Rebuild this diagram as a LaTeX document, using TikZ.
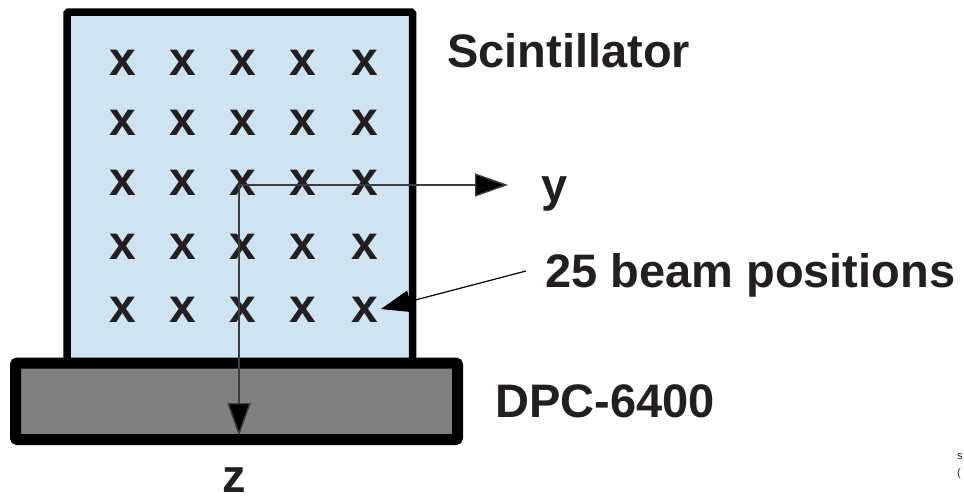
\documentclass[tikz,border=0pt]{standalone}
\usepackage{fontspec}
\setmainfont{Liberation Sans}
\usetikzlibrary{arrows.meta}
\definecolor{scinblue}{RGB}{207,228,243}
\definecolor{dpcgray}{RGB}{128,128,128}
\definecolor{ink}{RGB}{35,31,32}
\definecolor{axisline}{RGB}{60,60,60}
\tikzset{
  bigtext/.style={font=\fontsize{47}{50}\selectfont\bfseries, text=ink, inner sep=0pt},
  xmark/.style={font=\fontsize{48}{50}\selectfont\bfseries, text=ink, inner sep=0pt},
  axisarrow/.style={draw=axisline, line width=1.4pt, -{Triangle[length=33pt,width=23pt,fill=black]}},
  tinytext/.style={font=\fontsize{11}{12}\selectfont, text=ink, inner sep=0pt, anchor=base west}
}
\begin{document}
\begin{tikzpicture}[x=1pt,y=-1pt]
\useasboundingbox (0,0) rectangle (964,499);
\clip (0,0) rectangle (964,499);
% scintillator
\draw[fill=scinblue, line width=7.5pt, rounded corners=1.5pt] (67,12) rectangle (412.5,380);
\node[inner sep=0pt] (scin) at (240,190) {};
% DPC box
\draw[fill=dpcgray, line width=11pt, rounded corners=2pt] (15.5,363) rectangle (457.5,439.5);
\node[inner sep=0pt] (dpc) at (236,401) {};
% x marks
\foreach \r/\yy in {1/62.5,2/123,3/183,4/247,5/310}{
  \foreach \c/\xx in {1/122.5,2/182.5,3/242.5,4/303,5/364.5}{
    \node[xmark] (x\r\c) at (\xx,\yy) {x};
  }
}
% axes
\coordinate (o) at (239,185);
\coordinate (ytip) at (508,185);
\coordinate (ztip) at (239,436);
\draw[axisarrow] (o) -- (ytip);
\draw[axisarrow] (o) -- (ztip);
% labels
\node[bigtext, anchor=base west] (scilabel) at (447,67) {Scintillator};
\node[bigtext, anchor=base west] (ylabel) at (541,201) {y};
\node[bigtext, anchor=base west] (beamlabel) at (545,287) {25 beam positions};
\node[bigtext, anchor=base west] (dpclabel) at (495,417) {DPC-6400};
\node[bigtext, anchor=base] (zlabel) at (234.5,492) {z};
% pointer
\coordinate (pstart) at (526,271);
\coordinate (ptip) at (381,309);
\draw[draw=black, line width=1.2pt, -{Triangle[length=30pt,width=22pt]}] (pstart) -- (ptip);
% clipped fragments at right edge
\node[tinytext] (frag1) at (957,459) {s};
\node[tinytext] (frag2) at (957,476) {(};
\end{tikzpicture}
\end{document}
